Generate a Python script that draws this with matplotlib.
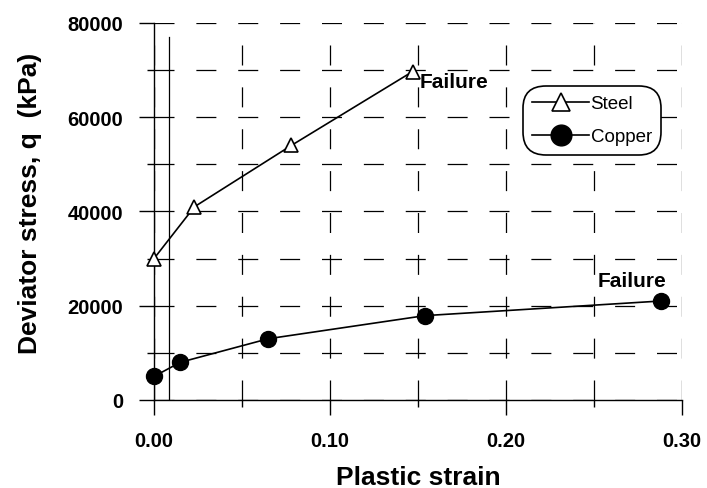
import matplotlib
matplotlib.use("Agg")
import matplotlib.pyplot as plt
from matplotlib.ticker import MultipleLocator, FormatStrFormatter

# Data
steel_x = [0.0, 0.023, 0.078, 0.147]
steel_y = [30000, 41000, 54000, 69700]
copper_x = [0.0, 0.015, 0.065, 0.154, 0.288]
copper_y = [5000, 8000, 13000, 17900, 21000]
series_labels = ["Steel", "Copper"]
failure_label = "Failure"
x_label = "Plastic strain"
y_label = "Deviator stress, q  (kPa)"
# stray vertical reference line in the original figure
ref_line_x = 0.0087
ref_line_top = 77000

plt.rcParams['font.family'] = ['Liberation Sans', 'DejaVu Sans']

fig = plt.figure(figsize=(7.07, 4.89), dpi=100)
ax = fig.add_axes([0.2178, 0.18, 0.7468, 0.771])

ax.set_xlim(0, 0.30)
ax.set_ylim(0, 80000)

dash = (0, (16.0, 17.5))
ax.xaxis.set_major_locator(MultipleLocator(0.10))
ax.xaxis.set_minor_locator(MultipleLocator(0.05))
ax.yaxis.set_major_locator(MultipleLocator(20000))
ax.yaxis.set_minor_locator(MultipleLocator(10000))
ax.xaxis.set_major_formatter(FormatStrFormatter('%.2f'))
ax.yaxis.set_major_formatter(FormatStrFormatter('%d'))
ax.grid(True, which='both', color='black', linewidth=0.9, linestyle=dash)
ax.set_axisbelow(True)

for s in ['top', 'right']:
    ax.spines[s].set_visible(False)
for s in ['left', 'bottom']:
    ax.spines[s].set_linewidth(1.0)

ax.tick_params(which='major', direction='out', length=11, width=1.0,
               labelsize=14.5, pad=11)
ax.tick_params(which='minor', direction='out', length=5, width=1.0)
for lab in ax.get_xticklabels() + ax.get_yticklabels():
    lab.set_fontweight('bold')

ax.plot([ref_line_x, ref_line_x], [0, ref_line_top], color='black', linewidth=0.9)

ax.plot(steel_x, steel_y, color='black', linewidth=1.2, marker='^',
        markersize=10, markerfacecolor='white', markeredgecolor='black',
        markeredgewidth=1.2, label=series_labels[0], clip_on=False, zorder=5)
ax.plot(copper_x, copper_y, color='black', linewidth=1.2, marker='o',
        markersize=11.5, markerfacecolor='black', markeredgecolor='black',
        label=series_labels[1], clip_on=False, zorder=5)

ax.annotate(failure_label, xy=(steel_x[-1], steel_y[-1]), xytext=(5, -7),
            textcoords='offset points', fontsize=15, fontweight='bold',
            ha='left', va='center')
ax.annotate(failure_label, xy=(copper_x[-1], copper_y[-1]), xytext=(-21, 15),
            textcoords='offset points', fontsize=15, fontweight='bold',
            ha='center', va='center')

ax.set_xlabel(x_label, fontsize=19, fontweight='bold', labelpad=11)
ax.set_ylabel(y_label, fontsize=19, fontweight='bold')
ax.yaxis.set_label_coords(-0.212, 0.525)

leg = ax.legend(loc='upper left', bbox_to_anchor=(0.699, 0.833), borderaxespad=0,
                fontsize=13.5, frameon=True, fancybox=True, handlelength=3.0,
                handletextpad=0.1, labelspacing=0.85, borderpad=0.5, markerscale=1.3)
frame = leg.get_frame()
frame.set_edgecolor('black')
frame.set_linewidth(1.2)
frame.set_alpha(1)
frame.set_boxstyle('round,pad=0.0,rounding_size=1.2')

fig.savefig('out.png', dpi=100)
